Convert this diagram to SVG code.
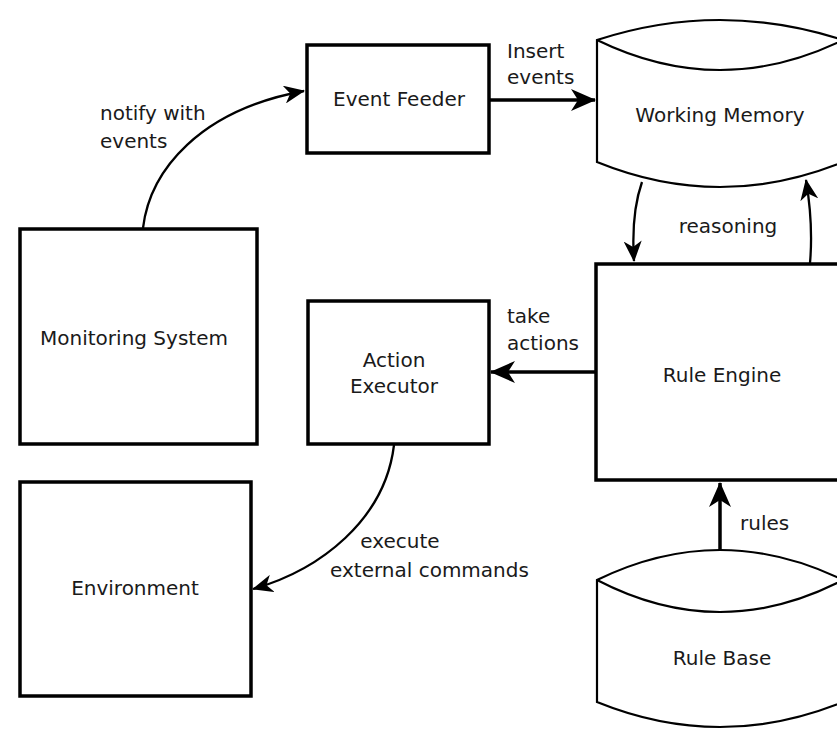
<svg xmlns="http://www.w3.org/2000/svg" width="837" height="732" viewBox="0 0 837 732">
<defs>
<marker id="ah" markerWidth="21" markerHeight="18" refX="20" refY="9" orient="auto" markerUnits="userSpaceOnUse">
<path d="M0,0 L21,9 L0,18 L6,9 z" fill="#000"/>
</marker>
<marker id="ahb" markerWidth="25" markerHeight="22" refX="24" refY="11" orient="auto" markerUnits="userSpaceOnUse">
<path d="M0,0 L25,11 L0,22 L7,11 z" fill="#000"/>
</marker>
<style>
.box{fill:#fff;stroke:#000;stroke-width:3.5}
.cyl{fill:#fff;stroke:#000;stroke-width:2.2}
.t{font-family:"DejaVu Sans",Verdana,sans-serif;font-size:20px;fill:#1a1a1a}
.m{text-anchor:middle}
.c{fill:none;stroke:#000;stroke-width:2.3}
.s{fill:none;stroke:#000;stroke-width:3.5}
</style>
</defs>
<rect width="837" height="732" fill="#fff"/>

<g id="event-feeder">
<rect class="box" x="307" y="45" width="182" height="108"/>
<text class="t m" x="399" y="106">Event Feeder</text>
</g>

<g id="working-memory">
<path class="cyl" d="M597,40 Q720,0 843,40 L843,162 Q720,212 597,162 Z"/>
<path class="cyl" d="M597,40 Q720,100 843,40"/>
<text class="t m" x="720" y="122">Working Memory</text>
</g>

<g id="monitoring-system">
<rect class="box" x="20" y="229" width="237" height="215"/>
<text class="t m" x="134" y="345">Monitoring System</text>
</g>

<g id="action-executor">
<rect class="box" x="308" y="301" width="181" height="143"/>
<text class="t m" x="394" y="367">Action</text>
<text class="t m" x="394" y="393">Executor</text>
</g>

<g id="rule-engine">
<rect class="box" x="596" y="264" width="250" height="216"/>
<text class="t m" x="722" y="382">Rule Engine</text>
</g>

<g id="environment">
<rect class="box" x="20" y="482" width="231" height="214"/>
<text class="t m" x="135" y="595">Environment</text>
</g>

<g id="rule-base">
<path class="cyl" d="M597,580 Q720,520 843,580 L843,702 Q720,752 597,702 Z"/>
<path class="cyl" d="M597,580 Q720,644 843,580"/>
<text class="t m" x="722" y="665">Rule Base</text>
</g>

<g id="connectors">
<path class="c" d="M143,228 C150,170 200,110 304,91" marker-end="url(#ah)"/>
<path class="s" d="M489,100 L595,100" marker-end="url(#ahb)"/>
<path class="c" d="M642,182 C634,205 632,230 634,261" marker-end="url(#ah)"/>
<path class="c" d="M810,263 C812,240 811,210 806,180" marker-end="url(#ah)"/>
<path class="s" d="M596,372 L491,372" marker-end="url(#ahb)"/>
<path class="s" d="M720,550 L720,483" marker-end="url(#ahb)"/>
<path class="c" d="M394,445 C385,520 320,570 253,589" marker-end="url(#ah)"/>
</g>

<g id="labels">
<text class="t" x="100" y="120">notify with</text>
<text class="t" x="100" y="148">events</text>
<text class="t" x="507" y="58">Insert</text>
<text class="t" x="507" y="84">events</text>
<text class="t m" x="728" y="233">reasoning</text>
<text class="t" x="507" y="323">take</text>
<text class="t" x="507" y="350">actions</text>
<text class="t" x="740" y="530">rules</text>
<text class="t m" x="400" y="548">execute</text>
<text class="t" x="330" y="577">external commands</text>
</g>
</svg>
